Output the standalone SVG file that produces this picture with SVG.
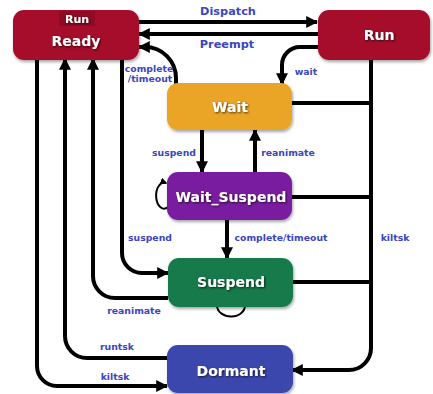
<svg xmlns="http://www.w3.org/2000/svg" width="433" height="394" viewBox="0 0 433 394">
<style>
.node{stroke:none;filter:url(#sh)}
.nt{font-family:"DejaVu Sans",Verdana,sans-serif;font-weight:bold;font-size:14px;fill:#fff;text-anchor:middle;filter:url(#tsh)}
.el{font-family:"DejaVu Sans",Verdana,sans-serif;font-weight:bold;font-size:9.3px;fill:#3a46c0;text-anchor:middle}
.big{font-size:11.3px}
.c{fill:none;stroke:#000;stroke-width:4}
.c2{fill:none;stroke:#000;stroke-width:2}
</style>
<defs>
<filter id="sh" x="-10%" y="-10%" width="125%" height="130%"><feDropShadow dx="1" dy="2" stdDeviation="1.5" flood-color="#000" flood-opacity="0.35"/></filter>
<filter id="tsh" x="-10%" y="-20%" width="130%" height="160%"><feDropShadow dx="1" dy="1" stdDeviation="0.8" flood-color="#000" flood-opacity="0.7"/></filter>
<marker id="ah" markerUnits="userSpaceOnUse" markerWidth="12" markerHeight="12" refX="9" refY="5" orient="auto" viewBox="0 0 10 10"><path d="M0,0 L10,5 L0,10 z" fill="#000"/></marker>
<marker id="as" markerUnits="userSpaceOnUse" markerWidth="7" markerHeight="7" refX="8" refY="5" orient="auto" viewBox="0 0 10 10"><path d="M0,0 L10,5 L0,10 z" fill="#000"/></marker>
</defs>
<rect width="433" height="394" fill="#fff"/>
<g id="connectors">
<path class="c" d="M139,22 H317" marker-end="url(#ah)"/>
<path class="c" d="M318,34 H139" marker-end="url(#ah)"/>
<path class="c" d="M176,84 V78 A31,31 0 0 0 145,47 H139" marker-end="url(#ah)"/>
<path class="c" d="M318,47 H300 A18,18 0 0 0 282,65 V84" marker-end="url(#ah)"/>
<path class="c" d="M371,60 V348 A22,22 0 0 1 349,370 H292" marker-end="url(#ah)"/>
<path class="c" d="M292,103 H371"/>
<path class="c" d="M292,197 H371"/>
<path class="c" d="M293,282 H371"/>
<path class="c" d="M202,130 V172" marker-end="url(#ah)"/>
<path class="c" d="M255,172 V130" marker-end="url(#ah)"/>
<path class="c" d="M227,220 V258" marker-end="url(#ah)"/>
<path class="c" d="M37,60 V366 A20,20 0 0 0 57,386 H167" marker-end="url(#ah)"/>
<path class="c" d="M167,358 H87 A22,22 0 0 1 65,336 V59" marker-end="url(#ah)"/>
<path class="c" d="M168,298 H115 A22,22 0 0 1 93,276 V59" marker-end="url(#ah)"/>
<path class="c" d="M122,60 V253 A20,20 0 0 0 142,273 H168" marker-end="url(#ah)"/>
<path class="c2" d="M168,207 A8,13 0 1 1 166,183" marker-end="url(#as)"/>
<path class="c2" d="M217,306 A14,11 0 0 0 245,305"/>
</g>
<g id="edge-labels">
<text class="el big" x="228" y="15">Dispatch</text>
<text class="el big" x="227" y="48">Preempt</text>
<text class="el" x="149" y="72">complete</text>
<text class="el" x="150" y="82">/timeout</text>
<text class="el" x="306" y="75">wait</text>
<text class="el" x="174" y="156">suspend</text>
<text class="el" x="288" y="156">reanimate</text>
<text class="el" x="150" y="241">suspend</text>
<text class="el" x="281" y="241">complete/timeout</text>
<text class="el" x="395" y="241">kiltsk</text>
<text class="el" x="134" y="314">reanimate</text>
<text class="el" x="117" y="350">runtsk</text>
<text class="el" x="115" y="380">kiltsk</text>
</g>
<g id="ready">
<rect class="node" x="13" y="10" width="126" height="50" rx="11" fill="#a50d2a"/>
<rect x="59" y="11" width="36" height="15" fill="#8f0b24"/>
<text class="nt" x="77" y="23" style="font-size:11px">Run</text>
<text class="nt" x="76" y="46">Ready</text>
</g>
<g id="run">
<rect class="node" x="318" y="10" width="112" height="50" rx="11" fill="#a50d2a"/>
<text class="nt" x="379" y="40">Run</text>
</g>
<g id="wait">
<rect class="node" x="167" y="83" width="125" height="47" rx="11" fill="#eba526"/>
<text class="nt" x="230" y="112">Wait</text>
</g>
<g id="wait_suspend">
<rect class="node" x="167" y="172" width="125" height="48" rx="11" fill="#7a1fa0"/>
<text class="nt" x="231" y="202">Wait_Suspend</text>
</g>
<g id="suspend">
<rect class="node" x="168" y="258" width="125" height="49" rx="11" fill="#157a4c"/>
<text class="nt" x="231" y="287">Suspend</text>
</g>
<g id="dormant">
<rect class="node" x="167" y="345" width="126" height="48" rx="11" fill="#3a47ad"/>
<text class="nt" x="231" y="376">Dormant</text>
</g>
</svg>
